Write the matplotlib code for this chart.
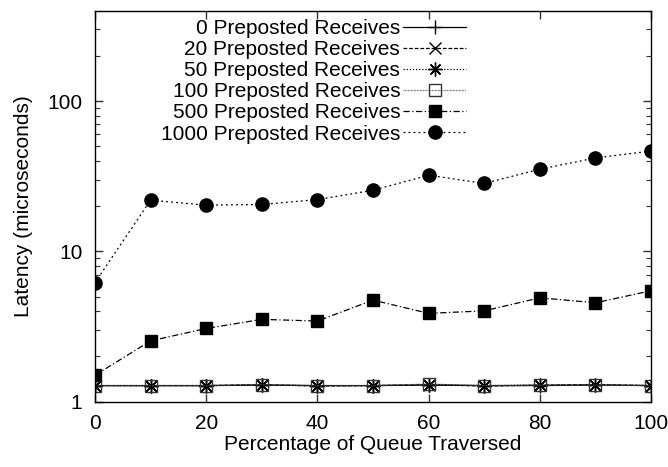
import matplotlib
matplotlib.use("Agg")
import matplotlib.pyplot as plt
from matplotlib.ticker import LogLocator, FixedLocator, NullFormatter, FixedFormatter

plt.rcParams['font.family'] = ['Liberation Sans', 'DejaVu Sans']

x = [0, 10, 20, 30, 40, 50, 60, 70, 80, 90, 100]
recv0 = [1.28, 1.28, 1.28, 1.29, 1.28, 1.28, 1.29, 1.28, 1.28, 1.29, 1.28]
recv20 = [1.28, 1.28, 1.28, 1.30, 1.27, 1.28, 1.30, 1.27, 1.29, 1.30, 1.28]
recv50 = [1.28, 1.28, 1.28, 1.29, 1.28, 1.28, 1.30, 1.28, 1.29, 1.30, 1.28]
recv100 = [1.28, 1.28, 1.28, 1.30, 1.28, 1.28, 1.31, 1.28, 1.29, 1.29, 1.28]
recv500 = [1.50, 2.54, 3.07, 3.53, 3.44, 4.74, 3.87, 4.02, 4.91, 4.55, 5.47]
recv1000 = [6.2, 21.9, 20.3, 20.5, 22.1, 25.5, 32.1, 28.3, 35.2, 41.8, 46.5]

labels = ["0 Preposted Receives", "20 Preposted Receives", "50 Preposted Receives",
          "100 Preposted Receives", "500 Preposted Receives", "1000 Preposted Receives"]
xticks = [0, 20, 40, 60, 80, 100]
yticks = [1, 10, 100]
ytick_labels = ["1", "10", "100"]

FS = 15

fig = plt.figure(figsize=(6.68, 4.67), dpi=100)
ax = fig.add_axes([0.1422, 0.1398, 0.9746 - 0.1422, 0.9775 - 0.1398])

lw = 0.9
ax.plot(x, recv0, color='black', lw=lw, ls='-', marker='+', ms=10, mew=1.0, label=labels[0])
ax.plot(x, recv20, color='black', lw=lw, ls=(0, (3, 1.5)), marker='x', ms=8, mew=1.0, label=labels[1])
ax.plot(x, recv50, color='black', lw=lw, ls=(0, (1, 1.5)), marker=(8, 2, 0), ms=10, mew=1.0, label=labels[2])
ax.plot(x, recv100, color='#555555', lw=lw, ls=(0, (0.6, 0.6)), marker='s', ms=9, mew=1.0,
        mfc='none', mec='#333333', label=labels[3])
ax.plot(x, recv500, color='black', lw=lw, ls=(0, (5, 2, 1, 2)), marker='s', ms=9, label=labels[4])
ax.plot(x, recv1000, color='black', lw=lw, ls=(0, (1.5, 2.5)), marker='o', ms=9.5, label=labels[5])

ax.set_yscale('log')
ax.set_xlim(0, 100)
ax.set_ylim(1, 400)
ax.xaxis.set_major_locator(FixedLocator(xticks))
ax.yaxis.set_major_locator(FixedLocator(yticks))
ax.yaxis.set_major_formatter(FixedFormatter(ytick_labels))
ax.yaxis.set_minor_locator(LogLocator(base=10, subs=range(2, 10)))
ax.yaxis.set_minor_formatter(NullFormatter())

ax.tick_params(which='both', direction='in', top=True, right=True, labelsize=FS, color='#333333')
ax.tick_params(which='major', length=6, width=1.0, pad=9)
ax.tick_params(which='minor', length=3.5, width=0.8)
for s in ax.spines.values():
    s.set_linewidth(1.0)

ax.set_xlabel("Percentage of Queue Traversed", fontsize=FS, labelpad=1)
ax.set_ylabel("Latency (microseconds)", fontsize=FS, labelpad=10)

leg = ax.legend(loc='upper right', bbox_to_anchor=(0.667, 0.978), frameon=False, markerfirst=False,
                fontsize=FS, handlelength=3.0, handletextpad=0.15, labelspacing=0.1,
                borderpad=0.0, borderaxespad=0.0)
try:
    leg._legend_box._children[1]._children[0].align = 'right'
except Exception:
    pass

fig.savefig("out.png", dpi=100)
